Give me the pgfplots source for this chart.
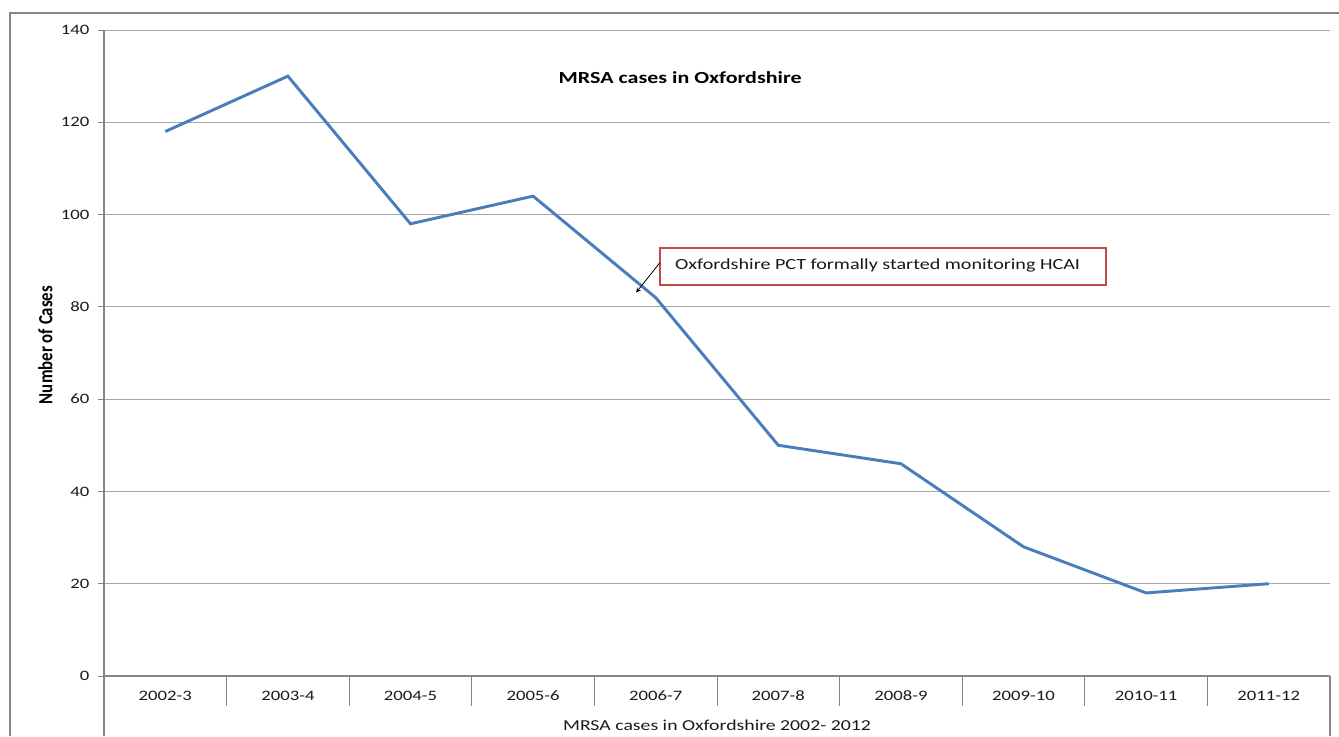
\documentclass[border=0pt]{standalone}
\usepackage{fontspec}
\setmainfont{Carlito}[FakeStretch=1.3]
\newfontfamily\ylfont{Carlito}
\usepackage{graphicx}
\usepackage{pgfplots}
\pgfplotsset{compat=1.18}
\definecolor{linecol}{RGB}{74,126,187}
\definecolor{gridcol}{RGB}{166,166,166}
\definecolor{axcol}{RGB}{134,134,134}
\definecolor{boxcol}{RGB}{190,75,72}

\begin{document}
\begin{tikzpicture}
% picture is 1339x736 px, 1px = 0.75pt
\path[use as bounding box] (0,0) rectangle (1004.25pt,552pt);
\draw[axcol, line width=0.9pt] (7.5pt,0) -- (7.5pt,542.25pt) -- (1004.25pt,542.25pt);
\begin{axis}[
  at={(78pt,45pt)}, anchor=origin,
  scale only axis, width=919.5pt, height=484.5pt,
  xmin=0, xmax=10, ymin=0, ymax=140,
  axis x line*=bottom, axis y line*=left,
  axis line style={axcol, line width=0.8pt},
  /pgf/number format/assume math mode=true,
  ytick={0,20,...,140},
  ymajorgrids, grid style={gridcol, line width=0.7pt},
  tick align=outside, major tick length=4.5pt,
  tick style={axcol, line width=0.7pt},
  xtick={0.5,1.5,...,9.5},
  xticklabels={2002-3,2003-4,2004-5,2005-6,2006-7,2007-8,2008-9,2009-10,2010-11,2011-12},
  x tick style={draw=none},
  ticklabel style={font=\fontsize{10.8}{12}\selectfont, text=black!90},
  xticklabel style={yshift=-3pt},
  yticklabel style={xshift=-3pt},
  xlabel={MRSA cases in Oxfordshire 2002- 2012},
  every axis x label/.style={at={(axis description cs:0.5,0)}, anchor=center, yshift=-36.75pt,
    font=\fontsize{11.4}{13}\selectfont, text=black!90},
  ylabel={\ylfont\bfseries\scalebox{1}[1.2]{Number of Cases}},
  every axis y label/.style={at={(axis description cs:0,0.5)}, anchor=center, xshift=-44pt, yshift=6pt,
    rotate=90, font=\fontsize{12.6}{15}\selectfont},
  clip=false,
]
\addplot[color=linecol, line width=2.2pt] coordinates {
  (0.5,118) (1.5,130) (2.5,98) (3.5,104) (4.5,82)
  (5.5,50) (6.5,46) (7.5,28) (8.5,18) (9.5,20)
};
% category dividers below the axis
\pgfplotsinvokeforeach{1,...,9}{
  \draw[axcol, line width=0.7pt] (axis cs:#1,0) -- ++(0,-22.5pt);
}
\draw[axcol, line width=0.8pt] (axis cs:0,0) -- ++(0,-45pt);
\draw[axcol, line width=0.8pt] (axis cs:10,0) -- ++(0,-45pt);
% title
\node[font=\bfseries\fontsize{12.7}{15}\selectfont] at (axis cs:4.70,129.6) {MRSA cases in Oxfordshire};
% annotation
\draw[boxcol, line width=1.5pt] (axis cs:4.535,92.8) rectangle (axis cs:8.17,84.7);
\node[anchor=west, inner sep=0pt, font=\fontsize{11.6}{14}\selectfont, text=black!90] at (axis cs:4.657,88.9)
  {Oxfordshire PCT formally started monitoring HCAI};
\draw[-stealth, line width=0.6pt] (axis cs:4.535,89.6) -- (axis cs:4.34,83.1);
\end{axis}
\end{tikzpicture}
\end{document}
